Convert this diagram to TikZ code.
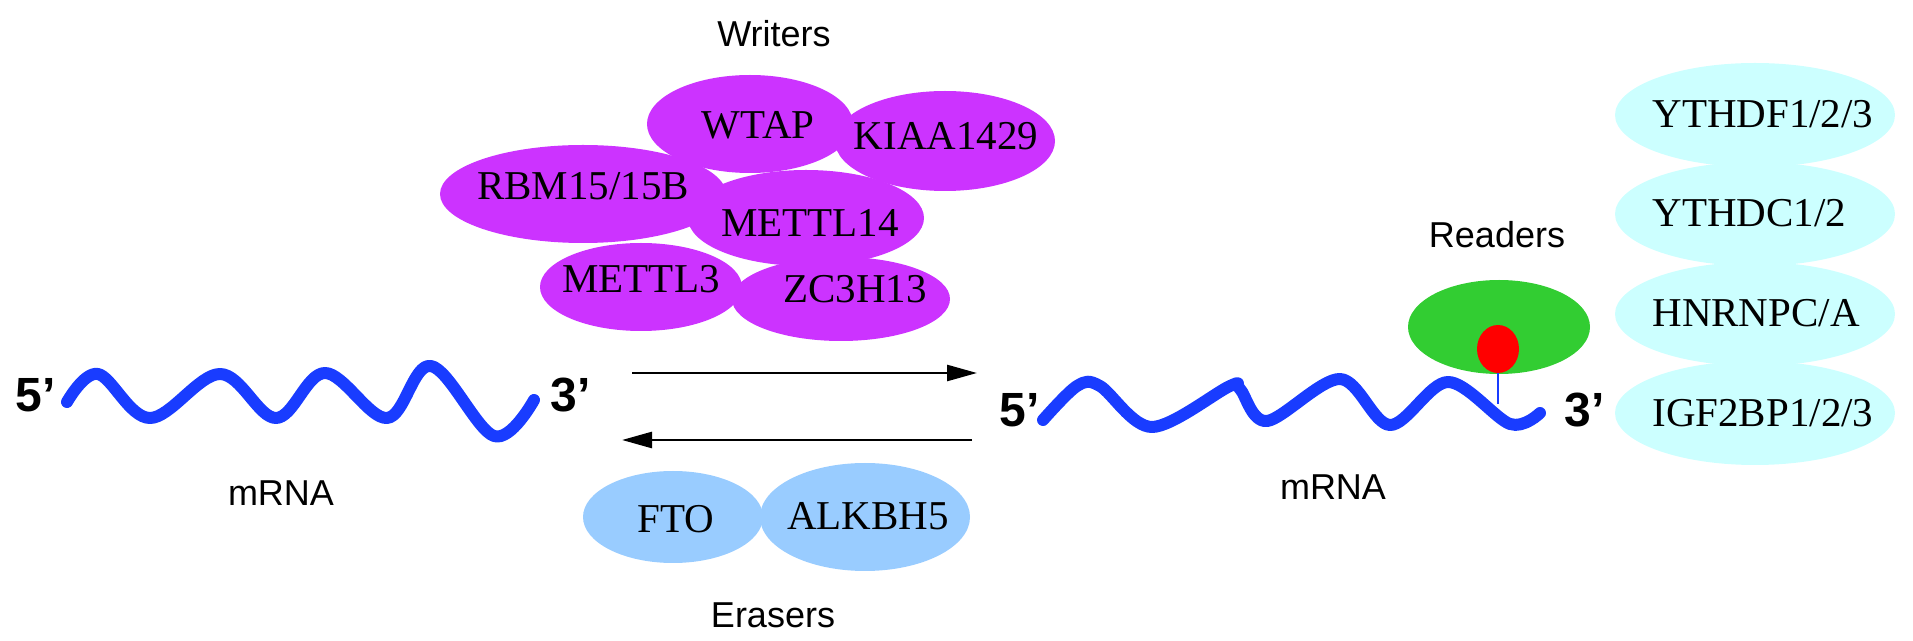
\documentclass[tikz,border=0pt]{standalone}
\usepackage{fontspec}
\setmainfont{Liberation Serif}
\newfontfamily\lsans{Liberation Sans}
\usetikzlibrary{shapes.geometric,arrows.meta}
\definecolor{writercol}{RGB}{204,51,255}
\definecolor{erasercol}{RGB}{153,204,255}
\definecolor{readercol}{RGB}{204,255,255}
\definecolor{greencol}{RGB}{50,205,50}
\definecolor{wavecol}{RGB}{25,60,255}
\begin{document}
\begin{tikzpicture}[x=0.5pt,y=-0.5pt,
  blob/.style={ellipse,inner sep=0pt,outer sep=0pt,draw=none},
  wr/.style={blob,fill=writercol},
  er/.style={blob,fill=erasercol},
  rd/.style={blob,fill=readercol},
  ptxt/.style={font=\fontsize{20.5}{24}\selectfont,anchor=base,inner sep=0pt},
  lbl/.style={font=\lsans\fontsize{18}{20}\selectfont,anchor=base,inner sep=0pt},
  endlbl/.style={font=\lsans\bfseries\fontsize{24}{26}\selectfont,anchor=base,inner sep=0pt},
  wave/.style={wavecol,line width=6pt,line cap=round,line join=round},
  conv/.style={line width=1.3pt,-{Triangle[length=15pt,width=8pt]}}
]
\useasboundingbox (0,0) rectangle (1913,641);

% ---------- Writers ----------
\node[lbl] (writers) at (774,47) {Writers};
\node[wr,minimum width=103pt,minimum height=49pt] (wtap) at (750,124) {};
\node[wr,minimum width=110pt,minimum height=50pt] (kiaa) at (945,141) {};
\node[wr,minimum width=143pt,minimum height=49pt] (rbm) at (583,194) {};
\node[wr,minimum width=118pt,minimum height=48pt] (mettl14) at (806,218) {};
\node[wr,minimum width=101pt,minimum height=44pt] (mettl3) at (641,287) {};
\node[wr,minimum width=109pt,minimum height=42pt] (zc3h13) at (841,299) {};
\node[ptxt] (wtapT) at (758,139) {WTAP};
\node[ptxt] (kiaaT) at (946,150) {KIAA1429};
\node[ptxt] (rbmT) at (583,200) {RBM15/15B};
\node[ptxt] (mettl14T) at (810,237) {METTL14};
\node[ptxt] (mettl3T) at (641,293) {METTL3};
\node[ptxt] (zcT) at (855,303) {ZC3H13};

% ---------- left mRNA ----------
\node[endlbl] (l5) at (36,412) {5’};
\node[endlbl] (l3) at (571,412) {3’};
\draw[wave] plot[smooth,tension=0.6] coordinates {(67,402) (98,374) (150,418) (220,374) (276,418) (325,373) (387,418) (431,366) (494,436) (534,400)};
\node[lbl] (lm) at (281,506) {mRNA};

% ---------- arrows ----------
\coordinate (a1s) at (632,373);
\coordinate (a1e) at (977,373);
\coordinate (a2s) at (972,440);
\coordinate (a2e) at (622,440);
\draw[conv] (a1s) -- (a1e);
\draw[conv] (a2s) -- (a2e);

% ---------- Erasers ----------
\node[er,minimum width=90pt,minimum height=46pt] (fto) at (673,517) {};
\node[er,minimum width=105pt,minimum height=54pt] (alkbh5) at (865,517) {};
\node[ptxt] (ftoT) at (676,533) {FTO};
\node[ptxt] (alkT) at (868,530) {ALKBH5};
\node[lbl] (erasers) at (773,627) {Erasers};

% ---------- right mRNA ----------
\node[lbl] (readers) at (1497,248) {Readers};
\node[blob,fill=greencol,minimum width=91pt,minimum height=47pt] (green) at (1499,327) {};
\node[blob,fill=red,minimum width=21pt,minimum height=24pt] (m6a) at (1498,349) {};
\coordinate (stemend) at (1498,404);
\draw[wavecol,line width=1pt] (m6a.south) -- (stemend);
\node[endlbl] (r5) at (1020,427) {5’};
\node[endlbl] (r3) at (1585,427) {3’};
\draw[wave] plot[smooth,tension=0.55] coordinates {(1043,420) (1077,386) (1100,386) (1152,427) (1230,386) (1240,389) (1267,421) (1340,379) (1390,425) (1448,382) (1510,424) (1540,413)};
\node[lbl] (rm) at (1333,500) {mRNA};

% ---------- reader proteins ----------
\node[rd,minimum width=140pt,minimum height=52pt] (r1) at (1755,115) {};
\node[rd,minimum width=140pt,minimum height=52pt] (r2) at (1755,214) {};
\node[rd,minimum width=140pt,minimum height=52pt] (r3b) at (1755,314) {};
\node[rd,minimum width=140pt,minimum height=52pt] (r4) at (1755,413) {};
\node[ptxt,anchor=base west] (r1T) at (1652,128) {YTHDF1/2/3};
\node[ptxt,anchor=base west] (r2T) at (1652,227) {YTHDC1/2};
\node[ptxt,anchor=base west] (r3T) at (1652,327) {HNRNPC/A};
\node[ptxt,anchor=base west] (r4T) at (1652,427) {IGF2BP1/2/3};
\end{tikzpicture}
\end{document}
